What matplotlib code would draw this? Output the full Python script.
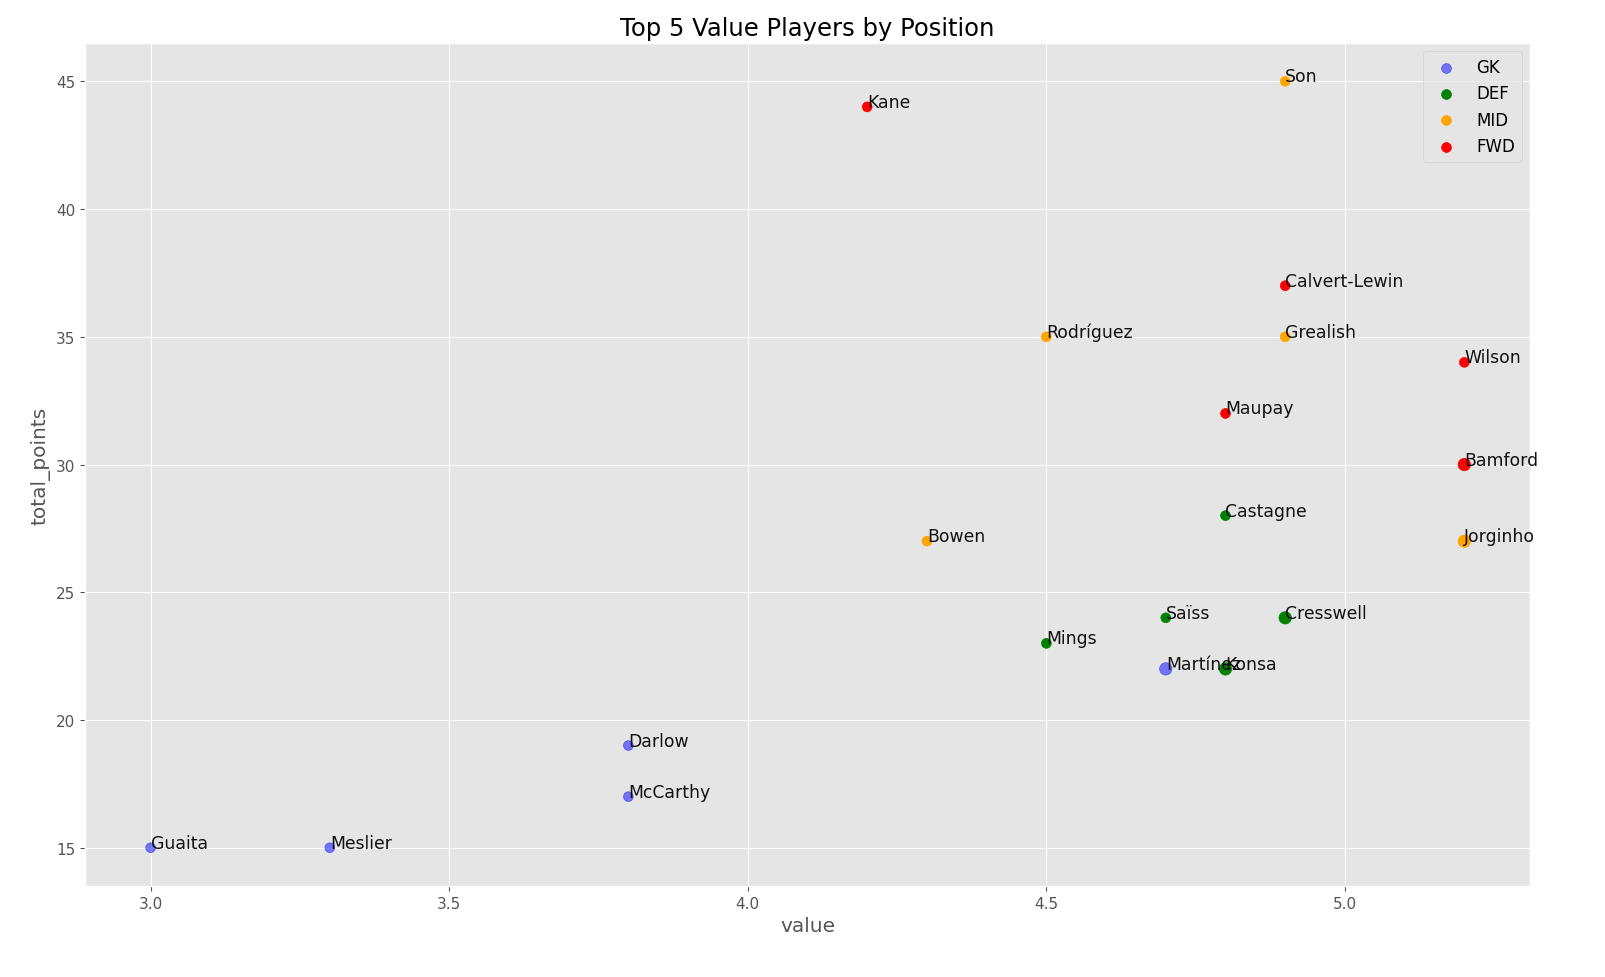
import matplotlib
matplotlib.use('Agg')
import matplotlib.pyplot as plt

plt.style.use('ggplot')

# donnees
positions = ['GK', 'DEF', 'MID', 'FWD']
couleurs = {'GK': 'blue', 'DEF': 'green', 'MID': 'orange', 'FWD': 'red'}
alphas = {'GK': 0.5, 'DEF': 1.0, 'MID': 1.0, 'FWD': 1.0}

gk_noms = ['Guaita', 'Meslier', 'Darlow', 'McCarthy', 'Martínez']
gk_value = [3.0, 3.3, 3.8, 3.8, 4.7]
gk_points = [15, 15, 19, 17, 22]

def_noms = ['Castagne', 'Saïss', 'Cresswell', 'Mings', 'Konsa']
def_value = [4.8, 4.7, 4.9, 4.5, 4.8]
def_points = [28, 24, 24, 23, 22]

mid_noms = ['Son', 'Rodríguez', 'Grealish', 'Bowen', 'Jorginho']
mid_value = [4.9, 4.5, 4.9, 4.3, 5.2]
mid_points = [45, 35, 35, 27, 27]

fwd_noms = ['Kane', 'Calvert-Lewin', 'Wilson', 'Maupay', 'Bamford']
fwd_value = [4.2, 4.9, 5.2, 4.8, 5.2]
fwd_points = [44, 37, 34, 32, 30]

# joueurs dont le point est plus gros sur l'original
gros_points = ['Martínez', 'Konsa', 'Cresswell', 'Bamford', 'Jorginho']

donnees = {
    'GK': (gk_noms, gk_value, gk_points),
    'DEF': (def_noms, def_value, def_points),
    'MID': (mid_noms, mid_value, mid_points),
    'FWD': (fwd_noms, fwd_value, fwd_points),
}

fig = plt.figure(figsize=(16.06, 9.78), dpi=100)
ax = fig.add_axes([0.0529, 0.093, 0.8998, 0.862])

for pos in positions:
    noms, xs, ys = donnees[pos]
    tailles = [80 if n in gros_points else 50 for n in noms]
    ax.scatter(xs, ys, c=couleurs[pos], alpha=alphas[pos], s=tailles, label=pos)
    for n, x, y in zip(noms, xs, ys):
        ax.text(x, y, n, fontsize=12.4, color='#111111')

ax.set_title('Top 5 Value Players by Position', fontsize=17.5)
ax.set_xlabel('value', fontsize=14.5)
ax.set_ylabel('total_points', fontsize=14.5)
ax.tick_params(labelsize=11)
leg = ax.legend(loc='upper right', fontsize=12)
for h in leg.legend_handles:
    h.set_sizes([50])

fig.savefig('out.png', dpi=100)
